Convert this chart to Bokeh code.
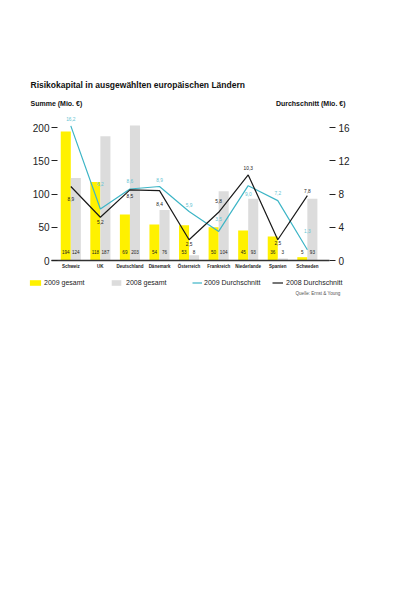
from bokeh.plotting import figure
from bokeh.models import (Range1d, LinearAxis, FixedTicker, Label, Legend,
                          LegendItem, ColumnDataSource)
from bokeh.transform import dodge
from bokeh.core.properties import value
from bokeh.embed import file_html
from bokeh.resources import INLINE

countries = ["Schweiz", "UK", "Deutschland", "Dänemark", "Österreich",
             "Frankreich", "Niederlande", "Spanien", "Schweden"]
total_2009 = [194, 118, 69, 54, 53, 50, 45, 36, 5]
total_2008 = [124, 187, 203, 76, 8, 104, 93, 3, 93]
avg_2009 = [16.2, 6.2, 8.6, 8.9, 5.9, 3.5, 9.0, 7.2, 1.3]
avg_2008 = [8.9, 5.2, 8.5, 8.4, 2.5, 5.8, 10.3, 2.5, 7.8]
left_ticks = [0, 50, 100, 150, 200]
right_ticks = [0, 4, 8, 12, 16]

# layout: pixel offsets of the average-value labels (negative = above)
avg09_dy = [-7, -25, -8, -7, -6, -12, 8, -8, -19]
avg08_dy = [12, 5, 6, 13, 4, -11, -7, 3, -5]

FONT = "Liberation Sans"
YELLOW = "#FFF100"
GRAY = "#DCDCDC"
CYAN = "#3DB5C6"
CYAN_TXT = "#62C3D2"
DARK = "#1a1a1a"

W, H = 404, 577
PX = 29.57          # px per category
X0 = 70.3           # x pixel of first category
Y0 = 260            # y pixel of zero line
PY = 133 / 200      # px per Mio. € (left scale)
RATIO = 12.5        # left / right scale ratio

def de(v):
    return f"{v:.1f}".replace(".", ",")

idx = list(range(len(countries)))
src = ColumnDataSource(dict(
    x=idx, t09=total_2009, t08=total_2008, a09=avg_2009, a08=avg_2008,
    t09s=[str(v) for v in total_2009], t08s=[str(v) for v in total_2008],
    a09s=[de(v) for v in avg_2009], a08s=[de(v) for v in avg_2008],
    a09off=avg09_dy, a08off=avg08_dy,
))

def xdata(px):
    return (px - X0) / PX

x_start = xdata(0)
x_end = xdata(W)
y_end = Y0 / PY
y_start = -(H - Y0) / PY

p = figure(width=W, height=H, output_backend="svg", toolbar_location=None,
           x_range=Range1d(x_start, x_end), y_range=Range1d(y_start, y_end),
           min_border=0, title=None)
p.extra_y_ranges = {"avg": Range1d(y_start / RATIO, y_end / RATIO)}
p.outline_line_color = None
p.xgrid.visible = False
p.ygrid.visible = False
p.background_fill_color = "white"
p.border_fill_color = "white"

bar09 = p.vbar(x=dodge("x", -0.17), top="t09", width=0.34, source=src,
               fill_color=YELLOW, line_color=None)
bar08 = p.vbar(x=dodge("x", 0.17), top="t08", width=0.34, source=src,
               fill_color=GRAY, line_color=None)

line09 = p.line("x", "a09", source=src, y_range_name="avg", line_color=CYAN,
                line_width=1.2)
line08 = p.line("x", "a08", source=src, y_range_name="avg", line_color=DARK,
                line_width=1.2)

# totals at bar bottoms
for col, dx in (("t09s", -0.17), ("t08s", 0.17)):
    p.text(x=dodge("x", dx), y=0, text=col, source=src, text_font=value(FONT),
           text_font_size="4.6px", text_align="center", text_baseline="middle",
           y_offset=-9, text_color="#222")
# average labels
p.text(x="x", y="a09", text="a09s", source=src, y_range_name="avg",
       text_font=value(FONT), text_font_size="4.8px", text_align="center",
       text_baseline="middle", y_offset="a09off", text_color=CYAN_TXT)
p.text(x="x", y="a08", text="a08s", source=src, y_range_name="avg",
       text_font=value(FONT), text_font_size="4.8px", text_align="center",
       text_baseline="middle", y_offset="a08off", text_color=DARK)

# x axis, drawn at the zero line
xa = p.xaxis[0]
xa.fixed_location = 0
xa.bounds = (xdata(51), xdata(329))
xa.ticker = FixedTicker(ticks=idx)
xa.major_label_overrides = {i: c for i, c in enumerate(countries)}
xa.major_tick_line_color = None
xa.major_tick_in = 0
xa.major_tick_out = 0
xa.minor_tick_line_color = None
xa.minor_tick_in = 0
xa.minor_tick_out = 0
xa.axis_line_color = "#333333"
xa.axis_line_width = 1.5
xa.major_label_text_font = FONT
xa.major_label_text_font_style = "bold"
xa.major_label_text_font_size = "4.5px"
xa.major_label_text_color = "#222"
xa.major_label_standoff = 3

# left axis
ya = p.yaxis[0]
ya.fixed_location = xdata(57)
ya.ticker = FixedTicker(ticks=left_ticks)
ya.axis_line_color = None
ya.major_tick_in = 0
ya.major_tick_out = 6
ya.major_tick_line_color = "#222"
ya.minor_tick_line_color = None
ya.major_label_text_font = FONT
ya.major_label_text_font_size = "10px"
ya.major_label_standoff = 2
ya.major_label_text_color = "#222"

# right axis
ra = LinearAxis(y_range_name="avg", ticker=FixedTicker(ticks=right_ticks))
ra.fixed_location = xdata(329)
ra.axis_line_color = None
ra.major_tick_in = 0
ra.major_tick_out = 6
ra.major_tick_line_color = "#222"
ra.minor_tick_line_color = None
ra.major_label_text_font = FONT
ra.major_label_text_font_size = "10px"
ra.major_label_standoff = 3
ra.major_label_text_color = "#222"
p.add_layout(ra, "right")

def lab(text, px, py, size, bold=True, align="left", color="#111"):
    p.add_layout(Label(x=px, y=H - py, x_units="screen", y_units="screen",
                       text=text, text_font=FONT,
                       text_font_style="bold" if bold else "normal",
                       text_font_size=size, text_align=align,
                       text_baseline="middle", text_color=color))

lab("Risikokapital in ausgewählten europäischen Ländern", 30, 84, "8.5px")
lab("Summe (Mio. €)", 30, 103, "7px")
lab("Durchschnitt (Mio. €)", 345, 103, "7px", align="right")
lab("Quelle: Ernst & Young", 340, 293, "4.6px", bold=False, align="right",
    color="#555")

# legends (location = bottom-left corner)
def add_leg(label, rend, px, gw, so):
    leg = Legend(items=[LegendItem(label=label, renderers=[rend])],
                 location=(px, H - 286), orientation="horizontal",
                 padding=0, margin=0, spacing=0, glyph_width=gw, glyph_height=7,
                 label_height=7, label_standoff=so, label_text_font=FONT,
                 label_text_font_size="7px", label_text_color="#222",
                 border_line_color=None, background_fill_alpha=0)
    p.add_layout(leg)

add_leg("2009 gesamt", bar09, 28, 14, 2)
add_leg("2008 gesamt", bar08, 110, 12, 4)
add_leg("2009 Durchschnitt", line09, 192, 10, 2)
add_leg("2008 Durchschnitt", line08, 272, 11, 3)

open("out.html", "w").write(file_html(p, INLINE))
